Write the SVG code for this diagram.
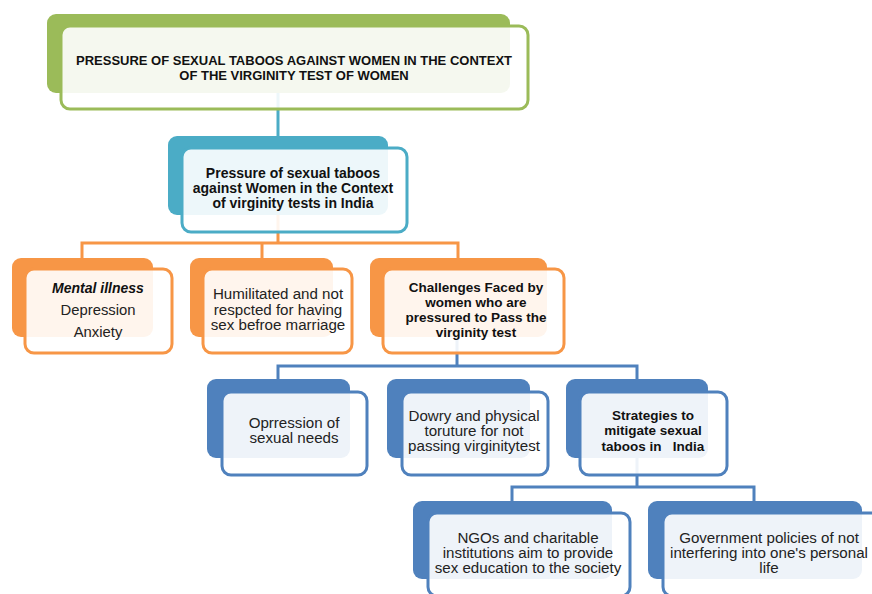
<svg xmlns="http://www.w3.org/2000/svg" width="872" height="594" viewBox="0 0 872 594">
<style>
  .t { font-family: "Liberation Sans", Arial, sans-serif; font-size: 14px; fill: #222; text-anchor: middle; }
  .b { font-weight: bold; font-size: 13.5px; fill: #111; }
  .front { fill: #ffffff; fill-opacity: 0.9; stroke-width: 3; }
  .g .back { fill: #9bbb59; } .g .front { stroke: #9bbb59; }
  .c .back { fill: #4bacc6; } .c .front { stroke: #4bacc6; }
  .o .back { fill: #f79646; } .o .front { stroke: #f79646; }
  .u .back { fill: #4f81bd; } .u .front { stroke: #4f81bd; }
  .con { fill: none; stroke-width: 3; }
</style>
<rect width="872" height="594" fill="#ffffff"/>
<g id="connectors">
  <path class="con" stroke="#4bacc6" d="M278,92 V136"/>
  <path class="con" stroke="#f79646" d="M278,215 V243 M82,258 V243 H458 V258 M262,243 V258"/>
  <path class="con" stroke="#4f81bd" d="M457,337 V366 M278,379 V366 H637 V379"/>
  <path class="con" stroke="#4f81bd" d="M637,458 V487 M512,501 V487 H754 V501"/>
</g>
<g id="n-root" class="g">
  <rect class="back" x="47" y="14" width="463" height="79" rx="9"/>
  <rect class="front" x="61" y="26" width="467" height="83" rx="9"/>
  <text class="t b" style="font-size:13px" x="294" y="65">PRESSURE OF SEXUAL TABOOS AGAINST WOMEN IN THE CONTEXT</text>
  <text class="t b" style="font-size:13px" x="294" y="80">OF THE VIRGINITY TEST OF WOMEN</text>
</g>
<g id="n-pressure" class="c">
  <rect class="back" x="168" y="136" width="220" height="79" rx="9"/>
  <rect class="front" x="182" y="148" width="225" height="84" rx="9"/>
  <text class="t b" style="font-size:14px" x="293" y="178">Pressure of sexual taboos</text>
  <text class="t b" style="font-size:14px" x="293" y="193">against Women in the Context</text>
  <text class="t b" style="font-size:14px" x="293" y="208">of virginity tests in India</text>
</g>
<g id="n-mental" class="o">
  <rect class="back" x="12" y="258" width="141" height="79" rx="9"/>
  <rect class="front" x="25" y="269" width="147" height="84" rx="9"/>
  <text class="t b" style="font-style:italic;font-size:14px" x="98" y="293">Mental illness</text>
  <text class="t" transform="translate(98,315) scale(1.06,1)">Depression</text>
  <text class="t" transform="translate(98,337) scale(1.06,1)">Anxiety</text>
</g>
<g id="n-humiliated" class="o">
  <rect class="back" x="190" y="258" width="143" height="79" rx="9"/>
  <rect class="front" x="203" y="269" width="149" height="84" rx="9"/>
  <text class="t" transform="translate(278,299) scale(1.08,1)">Humilitated and not</text>
  <text class="t" transform="translate(278,315) scale(1.08,1)">respcted for having</text>
  <text class="t" transform="translate(278,330) scale(1.08,1)">sex befroe marriage</text>
</g>
<g id="n-challenges" class="o">
  <rect class="back" x="370" y="258" width="177" height="79" rx="9"/>
  <rect class="front" x="383" y="269" width="181" height="84" rx="9"/>
  <text class="t b" x="476" y="292">Challenges Faced by</text>
  <text class="t b" x="476" y="307">women who are</text>
  <text class="t b" x="476" y="322">pressured to Pass the</text>
  <text class="t b" x="476" y="337">virginity test</text>
</g>
<g id="n-oppression" class="u">
  <rect class="back" x="207" y="379" width="143" height="79" rx="9"/>
  <rect class="front" x="222" y="392" width="145" height="83" rx="9"/>
  <text class="t" transform="translate(294,428) scale(1.08,1)">Oprression of</text>
  <text class="t" transform="translate(294,443) scale(1.08,1)">sexual needs</text>
</g>
<g id="n-dowry" class="u">
  <rect class="back" x="387" y="379" width="143" height="79" rx="9"/>
  <rect class="front" x="402" y="392" width="146" height="83" rx="9"/>
  <text class="t" transform="translate(474,421) scale(1.08,1)">Dowry and physical</text>
  <text class="t" transform="translate(474,436) scale(1.08,1)">toruture for not</text>
  <text class="t" transform="translate(474,451) scale(1.08,1)">passing virginitytest</text>
</g>
<g id="n-strategies" class="u">
  <rect class="back" x="566" y="379" width="142" height="79" rx="9"/>
  <rect class="front" x="580" y="392" width="147" height="83" rx="9"/>
  <text class="t b" x="653" y="420">Strategies to</text>
  <text class="t b" x="653" y="435">mitigate sexual</text>
  <text class="t b" x="653" y="451" xml:space="preserve">taboos in   India</text>
</g>
<g id="n-ngos" class="u">
  <rect class="back" x="413" y="501" width="199" height="78" rx="9"/>
  <rect class="front" x="428" y="513" width="202" height="83" rx="9"/>
  <text class="t" transform="translate(528,543) scale(1.08,1)">NGOs and charitable</text>
  <text class="t" transform="translate(528,558) scale(1.08,1)">institutions aim to provide</text>
  <text class="t" transform="translate(528,573) scale(1.08,1)">sex education to the society</text>
</g>
<g id="n-government" class="u">
  <rect class="back" x="648" y="501" width="214" height="78" rx="9"/>
  <rect class="front" x="663" y="513" width="220" height="83" rx="9"/>
  <text class="t" transform="translate(769,543) scale(1.08,1)">Government policies of not</text>
  <text class="t" transform="translate(769,558) scale(1.08,1)">interfering into one's personal</text>
  <text class="t" transform="translate(769,573) scale(1.08,1)">life</text>
</g>
</svg>
